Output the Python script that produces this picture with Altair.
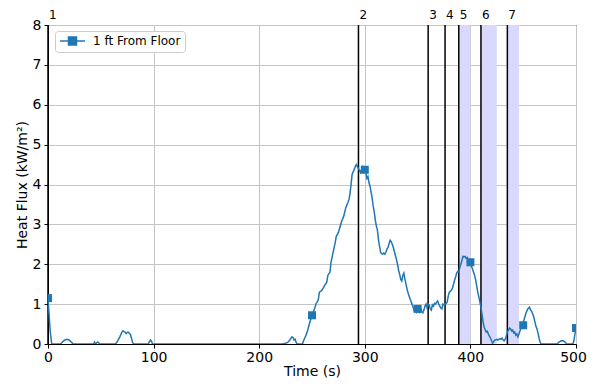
import altair as alt
import pandas as pd

# Heat flux trace: (time s, kW/m2)
trace = [
    (0, 1.15), (1, 0.75), (2, 0.35), (3.5, 0), (12, 0), (14, 0.06), (16, 0.10), (18, 0.12), (20, 0.10), (22, 0.05), (24, 0),
    (43, 0), (44, 0.05), (45, 0), (47, 0.05), (48, 0.03), (49, 0),
    (64, 0), (66, 0.08), (68, 0.18), (70, 0.30), (71, 0.33), (72, 0.31), (73, 0.30), (74, 0.26), (75, 0.29), (76, 0.30),
    (77, 0.27), (78, 0.24), (79, 0.15), (80, 0.05), (81, 0),
    (95, 0), (96, 0.06), (97, 0.10), (98, 0.07), (99, 0),
    (222, 0), (225, 0.02), (227, 0.04), (229, 0.10), (231, 0.18), (232, 0.17), (233, 0.10), (234, 0.12), (235, 0.04), (236, 0),
    (241, 0), (242, 0.08), (244, 0.20), (246, 0.35), (248, 0.55), (250, 0.72), (252, 0.85), (254, 1.02), (255, 1.05),
    (256, 1.12), (257, 1.30), (259, 1.33), (261, 1.42), (262, 1.47), (264, 1.55), (265, 1.72), (267, 1.80), (268, 2.05),
    (270, 2.30), (272, 2.55), (273, 2.70), (275, 2.80), (277, 2.98), (278, 3.07), (280, 3.20), (282, 3.42), (284, 3.55),
    (285, 3.62), (286, 3.78), (287, 4.00), (288, 4.25), (289, 4.32), (290, 4.38), (291, 4.45), (292, 4.50), (293, 4.45),
    (294, 4.40), (295, 4.35), (296, 4.30), (297, 4.38), (298, 4.45), (299, 4.40), (300, 4.37), (301, 4.30), (302, 4.15), (303, 4.20),
    (304, 4.05), (305, 3.95), (306, 3.80), (307, 3.65), (308, 3.45), (309, 3.30), (310, 3.10), (311, 2.95), (312, 2.85), (313, 2.60),
    (314, 2.45), (315, 2.30), (316, 2.27), (317, 2.25), (318, 2.28), (319, 2.25), (320, 2.30), (321, 2.38), (322, 2.42), (323, 2.52),
    (324, 2.60), (325, 2.57), (326, 2.50), (327, 2.42), (328, 2.32), (329, 2.22), (330, 2.12), (331, 2.00), (332, 1.85), (333, 1.75),
    (334, 1.62), (335, 1.58), (336, 1.72), (337, 1.78), (338, 1.62), (339, 1.50), (340, 1.38), (341, 1.28), (342, 1.20), (343, 1.12),
    (344, 1.05), (345, 0.98), (346, 0.90), (347, 0.82), (348, 0.85), (349, 0.80), (350, 0.88), (351, 0.85), (352, 0.80), (353, 0.88),
    (354, 0.80), (355, 0.78), (356, 0.85), (357, 0.95), (358, 1.00), (359, 0.90), (360, 1.00), (361, 0.98), (362, 0.88), (363, 0.85),
    (364, 0.98), (365, 0.95), (366, 1.02), (367, 1.00), (368, 1.05), (369, 1.08), (370, 1.00), (371, 0.95), (372, 0.90), (373, 0.88),
    (374, 1.00), (375, 0.98), (376, 1.00), (377, 1.02), (378, 1.05), (379, 1.20), (380, 1.30), (381, 1.32), (382, 1.35), (383, 1.40),
    (384, 1.50), (385, 1.60), (386, 1.68), (387, 1.78), (388, 1.82), (389, 1.80), (390, 1.92), (391, 2.00), (392, 2.10), (393, 2.20),
    (394, 2.18), (395, 2.20), (396, 2.15), (397, 2.17), (398, 2.10), (399, 2.05), (400, 2.02), (401, 1.95), (402, 1.88), (403, 1.80),
    (404, 1.72), (405, 1.60), (406, 1.45), (407, 1.30), (408, 1.18), (409, 1.05), (410, 0.92), (411, 0.75), (412, 0.55), (413, 0.42),
    (414, 0.36), (415, 0.30), (416, 0.32), (417, 0.25), (418, 0.20), (419, 0.15), (420, 0.08), (421, 0.02), (422, 0.06), (423, 0.10),
    (424, 0.10), (425, 0.12), (426, 0.10), (427, 0.12), (428, 0.13), (429, 0.12), (430, 0.15), (431, 0.10), (432, 0.08), (433, 0.12),
    (434, 0.20), (435, 0.30), (436, 0.35), (437, 0.40), (438, 0.38), (439, 0.33), (440, 0.35), (441, 0.28), (442, 0.30), (443, 0.22),
    (444, 0.25), (445, 0.18), (446, 0.25), (447, 0.33), (448, 0.40), (449, 0.45), (450, 0.52), (451, 0.62), (452, 0.72), (453, 0.80),
    (454, 0.86), (455, 0.90), (456, 0.92), (457, 0.85), (458, 0.82), (459, 0.75), (460, 0.68), (461, 0.56), (462, 0.45), (463, 0.38),
    (464, 0.28), (465, 0.15), (466, 0.05), (467, 0),
    (482, 0), (484, 0.05), (486, 0.08), (488, 0.08), (490, 0.04), (491, 0), (497, 0), (498, 0.08), (499, 0.25), (500, 0.40),
]
time_s = [p[0] for p in trace]
heat_flux = [p[1] for p in trace]

# Markers (every 50 s, visible ones)
marker_time = [0, 250, 300, 350, 400, 450, 500]
marker_flux = [1.15, 0.72, 4.37, 0.88, 2.05, 0.47, 0.40]

# Event lines
event_time = [0, 294, 360, 376, 389, 410, 435]
event_label = ["1", "2", "3", "4", "5", "6", "7"]

# Shaded intervals
band_start = [389, 410, 435]
band_end = [400, 425, 446]

# Axis ticks
x_ticks = [0, 100, 200, 300, 400, 500]
y_ticks = [0, 1, 2, 3, 4, 5, 6, 7, 8]

series_name = "1 ft From Floor"

W, H = 528, 319
FONT = "DejaVu Sans"
BLUE = "#1f77b4"

df_line = pd.DataFrame({"t": time_s, "q": heat_flux, "series": series_name})
df_mark = pd.DataFrame({"t": marker_time, "q": marker_flux, "series": series_name})
df_ev = pd.DataFrame({"t": event_time, "label": event_label})
df_band = pd.DataFrame({"a": band_start, "b": band_end})

xscale = alt.Scale(domain=[0, 500], nice=False, zero=False)
yscale = alt.Scale(domain=[0, 8], nice=False)

xaxis = alt.Axis(
    values=x_ticks, title="Time (s)", format="d", labelFlush=False,
    labelOffset={"condition": {"test": "datum.value == 500", "value": -3}, "value": 0},
)
yaxis = alt.Axis(values=y_ticks, title="Heat Flux (kW/m²)", format="d", labelFlush=False)

# legend glyph: line with a square marker (custom path, unit = 5 px)
legend_glyph = "M-1,0L4,0M0.7,-0.8L2.3,-0.8L2.3,0.8L0.7,0.8Z"

color = alt.Color(
    "series:N",
    scale=alt.Scale(domain=[series_name], range=[BLUE]),
    legend=alt.Legend(
        title=None,
        orient="none",
        legendX=7,
        legendY=6,
        symbolType=legend_glyph,
        symbolSize=100,
        symbolStrokeWidth=1.5,
        symbolFillColor=BLUE,
        symbolStrokeColor=BLUE,
        labelFontSize=12,
        labelFont=FONT,
        labelColor="black",
        labelOffset=22,
        padding=4,
        cornerRadius=3,
        strokeColor="#cccccc",
        fillColor="white",
    ),
)

X_t = alt.X("t:Q", scale=xscale, axis=xaxis)
Y_q = alt.Y("q:Q", scale=yscale, axis=yaxis)

bands = alt.Chart(df_band).mark_rect(color="#d9d9ff", opacity=1).encode(
    x=alt.X("a:Q", scale=xscale, axis=xaxis),
    x2="b:Q",
    y=alt.value(0),
    y2=alt.value(H),
)

line = alt.Chart(df_line).mark_line(strokeWidth=1.5, clip=True).encode(
    x=X_t, y=Y_q, color=color,
)

pts = alt.Chart(df_mark).mark_point(shape="square", filled=True, size=64, opacity=1, clip=True).encode(
    x=X_t, y=Y_q, color=color,
)

rules = alt.Chart(df_ev).mark_rule(color="black", strokeWidth=1.5).encode(
    x=X_t,
    y=alt.value(0),
    y2=alt.value(H),
)

labels = alt.Chart(df_ev).mark_text(align="left", baseline="alphabetic", fontSize=12, font=FONT, dx=1, color="black").encode(
    x=X_t,
    y=alt.value(-6),
    text="label:N",
)

chart = alt.layer(bands, rules, line, pts, labels).properties(
    width=W,
    height=H,
    autosize=alt.AutoSizeParams(type="none"),
    padding={"left": 40, "top": 17, "right": 11, "bottom": 35},
).configure_view(
    stroke="black", strokeWidth=1
).configure_axis(
    grid=True,
    gridColor="#c4c4c4",
    gridWidth=1,
    domainColor="black",
    domainWidth=1,
    tickColor="black",
    tickSize=4,
    labelFont=FONT,
    labelFontSize=14,
    labelColor="black",
    titleFont=FONT,
    titleFontSize=14,
    titleFontWeight="normal",
    titleColor="black",
    labelPadding=3,
).configure_axisX(titlePadding=0, labelPadding=2).configure_axisY(titlePadding=3)

chart.save("out.html", embed_options={"renderer": "svg", "actions": False})
